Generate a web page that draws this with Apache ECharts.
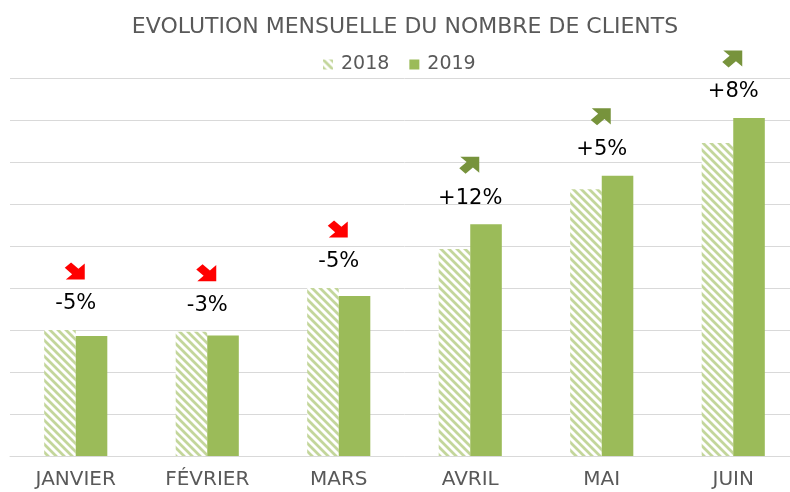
<!DOCTYPE html>
<html>
<head>
<meta charset="utf-8">
<script src="https://cdn.jsdelivr.net/npm/echarts@6/dist/echarts.min.js"></script>
<style>
  html, body { margin: 0; padding: 0; background: #fff; overflow: hidden; }
  #chart { width: 800px; height: 492px; }
</style>
</head>
<body>
<div id="chart"></div>
<script>
// data
var months = ['JANVIER', 'FÉVRIER', 'MARS', 'AVRIL', 'MAI', 'JUIN']
var clients2018 = [3.0, 2.96, 4.0, 4.93, 6.35, 7.45]
var clients2019 = [2.86, 2.87, 3.81, 5.52, 6.67, 8.05]
var evolution = ['-5%', '-3%', '-5%', '+12%', '+5%', '+8%']

// hatched fill for 2018
var tile = document.createElement('canvas')
tile.width = 8; tile.height = 8
var ctx = tile.getContext('2d')
ctx.fillStyle = '#fff'
ctx.fillRect(0, 0, 8, 8)
ctx.strokeStyle = '#c3d69b'
ctx.lineWidth = 2.8
ctx.beginPath()
ctx.moveTo(-4, -4); ctx.lineTo(12, 12)
ctx.moveTo(-4, 4); ctx.lineTo(4, 12)
ctx.moveTo(4, -4); ctx.lineTo(12, 4)
ctx.stroke()

var arrowDown = 'path://M7,1 L14,8 L20,2 L20,20 L2,20 L8,14 L1,7 Z'
var arrowUp = 'path://M7,19 L14,12 L20,18 L20,0 L2,0 L8,6 L1,13 Z'

var tops = months.map(function (m, i) {
    return Math.max(clients2018[i], clients2019[i])
})
var arrows = tops.map(function (v, i) {
    var up = evolution[i].charAt(0) === '+'
    return {
        value: v,
        symbol: up ? arrowUp : arrowDown,
        itemStyle: { color: up ? '#77933c' : '#ff0000', opacity: 1 }
    }
})

var myChart = echarts.init(document.getElementById('chart'))
option = {
    animation: false,
    title: {
        text: 'EVOLUTION MENSUELLE DU NOMBRE DE CLIENTS',
        left: 400,
        textAlign: 'center',
        top: 11,
        textStyle: {
            color: '#595959',
            fontFamily: 'DejaVu Sans',
            fontWeight: 'normal',
            fontSize: 22
        }
    },
    legend: {
        data: ['2018', '2019'],
        left: 318,
        top: 50,
        icon: 'rect',
        itemWidth: 10,
        itemHeight: 10,
        itemGap: 20,
        textStyle: {
            color: '#595959',
            fontFamily: 'DejaVu Sans',
            fontSize: 19,
            padding: [0, 0, 0, 3]
        }
    },
    grid: {
        left: 10,
        right: 1,
        top: 78,
        bottom: 36
    },
    xAxis: {
        type: 'category',
        data: months,
        axisLine: { lineStyle: { color: '#d9d9d9' } },
        axisTick: { show: false },
        axisLabel: {
            margin: 14,
            color: '#595959',
            fontFamily: 'DejaVu Sans',
            fontSize: 20
        }
    },
    yAxis: {
        type: 'value',
        min: 0,
        max: 9,
        interval: 1,
        axisLine: { show: false },
        axisTick: { show: false },
        axisLabel: { show: false },
        splitLine: { lineStyle: { color: '#d9d9d9' } }
    },
    series: [{
        name: '2018',
        type: 'bar',
        data: clients2018,
        barGap: '0%',
        barCategoryGap: '52%',
        itemStyle: { color: { image: tile, repeat: 'repeat' } }
    }, {
        name: '2019',
        type: 'bar',
        data: clients2019,
        itemStyle: { color: '#9bbb59' }
    }, {
        type: 'scatter',
        data: tops,
        symbolSize: 1,
        itemStyle: { color: 'rgba(0,0,0,0)', opacity: 1 },
        label: {
            show: true,
            formatter: function (p) { return evolution[p.dataIndex] },
            position: 'inside',
            offset: [0, -26],
            color: '#000',
            fontFamily: 'DejaVu Sans',
            fontSize: 21
        },
        z: 5
    }, {
        type: 'scatter',
        data: arrows,
        symbolSize: [20, 17],
        symbolOffset: [-1, -59],
        z: 5
    }]
}
myChart.setOption(option)
</script>
</body>
</html>
